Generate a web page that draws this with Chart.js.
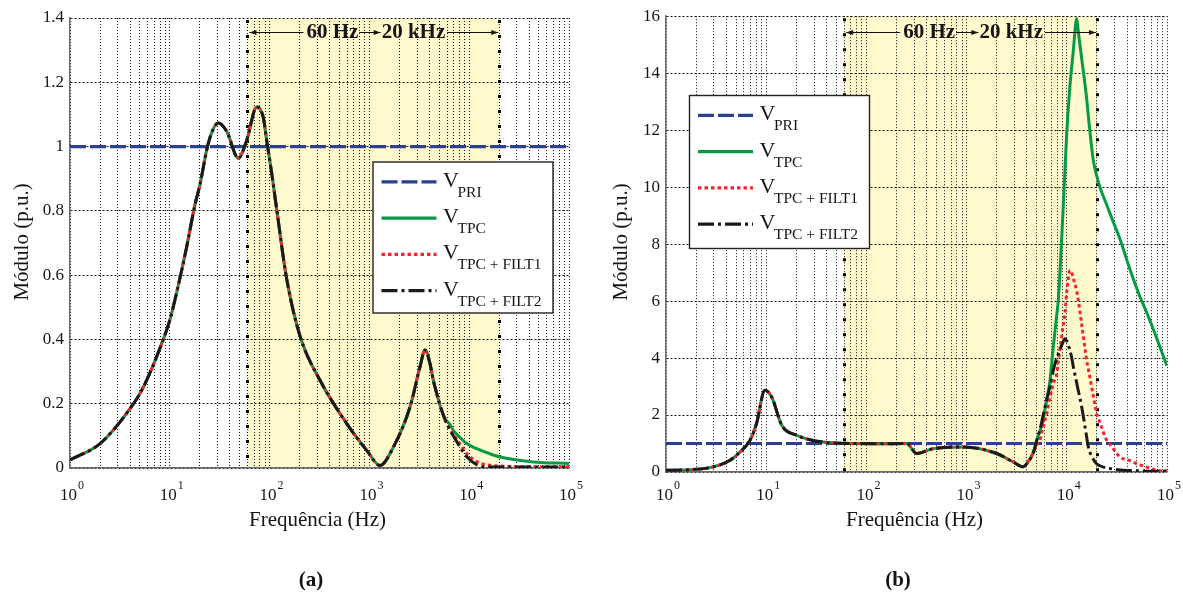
<!DOCTYPE html>
<html><head><meta charset="utf-8">
<script src="https://cdn.jsdelivr.net/npm/chart.js@4.4.1/dist/chart.umd.min.js"></script>
<style>
html,body{margin:0;padding:0;background:#fff;width:1183px;height:598px;overflow:hidden;}
#wa{position:absolute;left:0;top:0;width:591px;height:598px;}
#wb{position:absolute;left:591px;top:0;width:592px;height:598px;}
</style></head><body>
<div id="wa"><canvas id="ca" width="591" height="598"></canvas></div>
<div id="wb"><canvas id="cb" width="592" height="598"></canvas></div>
<script>
// ---------- DATA ----------
const xTickExponents = [0, 1, 2, 3, 4, 5];
const yTicksA = [0, 0.2, 0.4, 0.6, 0.8, 1, 1.2, 1.4];
const yTicksB = [0, 2, 4, 6, 8, 10, 12, 14, 16];
const bandHz = [60, 20000];
const bandText = ['60 Hz', '20 kHz'];
const legendMain = 'V';
const legendSubs = ['PRI', 'TPC', 'TPC + FILT1', 'TPC + FILT2'];
const seriesNames = ['V_PRI', 'V_TPC', 'V_TPC+FILT1', 'V_TPC+FILT2'];
const axisTitleX = 'Frequência (Hz)';
const axisTitleY = 'Módulo (p.u.)';
const captions = ['(a)', '(b)'];

const freqPri = [1, 100000];
const vPriA = [1, 1];
const vPriB = [1, 1];

// chart (a)
const freqA = [1, 2, 4, 5.4, 8.6, 10, 12, 14.8, 17.9, 20, 24.3, 30.6, 37.2, 48.6, 59, 74.3, 86.5, 93.4, 105, 118, 148, 202, 320, 593, 940, 1277, 1738, 2553, 3214, 3606, 4048, 4370, 4725, 5100, 5725, 6430, 6930, 8090, 9440, 11900, 13840, 20370, 43900, 100000];
const vTpcA = [0.025,0.076,0.185,0.25,0.40, 0.46,0.56,0.69,0.82,0.88, 1.01,1.073,1.047,0.964,1.02, 1.123,1.09,1.02,0.917,0.803, 0.59,0.41,0.273,0.138,0.055, 0.008,0.065,0.19,0.315,0.367, 0.325,0.273,0.232,0.195,
  0.154,0.135,0.117,0.095,0.076,0.06,0.052,0.034,0.019,0.014];
const vFilt1A = [0.025,0.076,0.185,0.25,0.40, 0.46,0.56,0.69,0.82,0.88, 1.01,1.073,1.047,0.964,1.02, 1.123,1.09,1.02,0.917,0.803, 0.59,0.41,0.273,0.138,0.055, 0.008,0.065,0.19,0.315,0.367, 0.325,0.273,0.232,0.195,
  0.152,0.12,0.105,0.075,0.045,0.02,0.012,0.006,0.004,0.004];
const vFilt2A = [0.025,0.076,0.185,0.25,0.40, 0.46,0.56,0.69,0.82,0.88, 1.01,1.073,1.047,0.964,1.02, 1.123,1.09,1.02,0.917,0.803, 0.59,0.41,0.273,0.138,0.055, 0.008,0.065,0.19,0.315,0.367, 0.325,0.273,0.232,0.195,
  0.15,0.117,0.1,0.065,0.035,0.01,0.004,0.003,0.003,0.003];

// chart (b)
const freqB = [1, 1.74, 2.97, 4.35, 5.47, 6.89, 8.0, 9.7, 11.35, 14.3, 20.1, 37, 80, 137, 252, 318, 466, 927, 1995, 2924, 3680, 3980, 4634,
  5010, 5400, 5620, 6050, 6300, 6790, 7330, 7930, 8225, 8895, 9590, 9980, 10770, 11200, 11620, 12560, 13030, 14090, 15800, 16400, 18400, 19870, 21400, 25000, 27000, 33960, 42800, 49900, 53700, 62700, 78900, 100000];
const vTpcB = [0.06,0.08,0.18,0.41,0.70, 1.11,1.70,2.87,2.63,1.64, 1.29,1.05,1.0,0.99,1.0, 0.65,0.82,0.88,0.65,0.35, 0.18,0.29,0.68,
  1.1,1.45,1.62,2.2,2.52,3.2,4.39,5.5,6.03,8.2,10.6,11.88,13.6,14.22,14.8,15.92,15.45,14.5,13.1,12.5,10.94,10.4,10.0,9.38,9.07,8.17,7.1,6.45,6.15,5.6,4.7,3.72];
const vFilt1B = [0.06,0.08,0.18,0.41,0.70, 1.11,1.70,2.87,2.63,1.64, 1.29,1.05,1.0,0.99,1.0, 0.65,0.82,0.88,0.65,0.35, 0.18,0.29,0.68,
  0.95,1.11,1.4,1.8,2.05,2.6,3.1,3.45,3.88,4.78,5.6,6.3,7.08,7.0,6.8,6.35,6.03,5.18,3.92,3.62,2.67,2.05,1.74,1.11,0.97,0.53,0.4,0.29,0.25,0.17,0.06,0.04];
const vFilt2B = [0.06,0.08,0.18,0.41,0.70, 1.11,1.70,2.87,2.63,1.64, 1.29,1.05,1.0,0.99,1.0, 0.65,0.82,0.88,0.65,0.35, 0.18,0.29,0.68,
  1.1,1.5,1.75,2.28,2.55,3.0,3.57,4.0,4.15,4.45,4.68,4.6,4.25,4.0,3.69,3.12,2.85,2.28,1.22,0.88,0.45,0.29,0.22,0.14,0.12,0.07,0.05,0.04,0.04,0.03,0.03,0.03];

// ---------- STYLE ----------
const SERIF = '"Liberation Serif", "Times New Roman", serif';
const TXT = '#151515';
const styles = [
  {color: '#2b3f93', dash: [16, 4], width: 3.2, order: 3},
  {color: '#079a45', dash: [], width: 3, order: 2},
  {color: '#f5232b', dash: [3.5, 3], width: 3, order: 1},
  {color: '#1a1a1a', dash: [16, 4, 3, 4], width: 3, order: 0}
];
Chart.defaults.font.family = SERIF;

function pts(xs, ys) { return xs.map((f, i) => ({x: f, y: ys[i]})); }

function arrow(ctx, x1, x2, y) {
  ctx.beginPath(); ctx.moveTo(x1, y); ctx.lineTo(x2, y); ctx.stroke();
  const d = Math.sign(x2 - x1);
  ctx.beginPath(); ctx.moveTo(x2, y); ctx.lineTo(x2 - d * 7, y - 2.6); ctx.lineTo(x2 - d * 7, y + 2.6); ctx.closePath(); ctx.fill();
}

const deco = {
  id: 'deco',
  beforeDraw(chart, args, o) {
    const {ctx, chartArea: a, scales: {x}} = chart;
    const x1 = x.getPixelForValue(bandHz[0]), x2 = x.getPixelForValue(bandHz[1]);
    ctx.save();
    ctx.fillStyle = 'rgb(255,249,206)';
    ctx.fillRect(x1, a.top, x2 - x1, a.bottom - a.top);
    ctx.restore();
  },
  beforeDatasetsDraw(chart, args, o) {
    const {ctx, chartArea: a, scales: {x}} = chart;
    ctx.save();
    ctx.strokeStyle = '#000'; ctx.lineWidth = 3; ctx.setLineDash([3, 12]);
    bandHz.forEach(v => {
      const px = Math.round(x.getPixelForValue(v)) + 0.5;
      ctx.beginPath(); ctx.moveTo(px, a.top + 2); ctx.lineTo(px, a.bottom); ctx.stroke();
    });
    ctx.restore();
  },
  afterDraw(chart, args, o) {
    const {ctx, chartArea: a, scales: {x}} = chart;
    ctx.save();
    // band annotation
    const xl = x.getPixelForValue(bandHz[0]), xr = x.getPixelForValue(bandHz[1]);
    const ya = 32.5;
    ctx.font = 'bold 21px ' + SERIF; ctx.fillStyle = TXT; ctx.strokeStyle = '#111'; ctx.lineWidth = 1;
    ctx.textAlign = 'left'; ctx.textBaseline = 'alphabetic';
    const w1 = ctx.measureText(bandText[0]).width, w2 = ctx.measureText(bandText[1]).width;
    const t1x = xl + 59, t2x = xr - 54 - w2;
    ctx.fillText(bandText[0], t1x, 38);
    ctx.fillText(bandText[1], t2x, 38);
    arrow(ctx, t1x - 3, xl + 2, ya);
    arrow(ctx, t1x + w1 + 1, t2x - 1, ya);
    arrow(ctx, t2x + w2 + 2, xr - 1, ya);

    // legend
    const L = o.legend;
    ctx.fillStyle = '#fff'; ctx.fillRect(L.x, L.y, L.w, L.h);
    ctx.strokeStyle = '#222'; ctx.lineWidth = 1.4; ctx.strokeRect(L.x + 0.5, L.y + 0.5, L.w, L.h);
    legendSubs.forEach((s, i) => {
      const y = L.y + 20.3 + i * 36.3;
      const st = styles[i];
      ctx.strokeStyle = st.color; ctx.lineWidth = 3.2; ctx.setLineDash(st.dash);
      ctx.beginPath(); ctx.moveTo(L.x + 9, y); ctx.lineTo(L.x + 64, y); ctx.stroke();
      ctx.setLineDash([]);
      ctx.fillStyle = TXT; ctx.textAlign = 'left'; ctx.textBaseline = 'alphabetic';
      ctx.font = '22px ' + SERIF;
      ctx.fillText(legendMain, L.x + 70.5, y + 5);
      ctx.font = '15.5px ' + SERIF;
      ctx.fillText(s, L.x + 85, y + 15);
    });

    // x tick labels 10^n
    ctx.fillStyle = TXT;
    xTickExponents.forEach(e => {
      const px = x.getPixelForValue(Math.pow(10, e));
      ctx.font = '17px ' + SERIF; ctx.textAlign = 'right'; ctx.textBaseline = 'alphabetic';
      ctx.fillText('10', px + 7, 500);
      ctx.font = '12px ' + SERIF; ctx.textAlign = 'left';
      ctx.fillText(String(e), px + 8, 489);
    });

    // axis titles
    ctx.font = '21px ' + SERIF; ctx.textAlign = 'center'; ctx.textBaseline = 'middle';
    ctx.fillText(axisTitleX, (a.left + a.right) / 2 - 2, 520);
    ctx.save();
    ctx.translate(o.yTitleX, 242); ctx.rotate(-Math.PI / 2);
    ctx.fillText(axisTitleY, 0, 0);
    ctx.restore();

    // caption
    ctx.font = 'bold 21px ' + SERIF;
    ctx.fillText(o.caption, o.capX, 581);
    ctx.restore();
  }
};

function makeChart(id, freq, tpc, f1, f2, pri, yTicks, yMax, opt) {
  const series = [pri, tpc, f1, f2];
  const xs = [freqPri, freq, freq, freq];
  return new Chart(document.getElementById(id), {
    type: 'line',
    data: {
      datasets: series.map((ys, i) => ({
        label: seriesNames[i],
        data: pts(xs[i], ys),
        borderColor: styles[i].color,
        borderDash: styles[i].dash,
        borderWidth: styles[i].width,
        order: styles[i].order,
        pointRadius: 0,
        fill: false,
        tension: 0,
        cubicInterpolationMode: 'monotone'
      }))
    },
    options: {
      responsive: false, animation: false, devicePixelRatio: 1,
      layout: {padding: opt.padding},
      plugins: {legend: {display: false}, tooltip: {enabled: false}, deco: opt},
      scales: {
        x: {
          type: 'logarithmic', min: 1, max: 100000,
          afterBuildTicks: s => {
            const t = [];
            for (let e = 0; e < 5; e++) for (let m = 1; m <= 9; m++) t.push({value: m * Math.pow(10, e)});
            t.push({value: 100000});
            s.ticks = t;
          },
          afterFit: s => { s.height = 30; },
          ticks: {display: false},
          grid: {color: '#111', lineWidth: 1, drawTicks: false},
          border: {display: true, color: '#6a6a6a', width: 1.5, dash: [1, 2]}
        },
        y: {
          type: 'linear', min: 0, max: yMax,
          afterBuildTicks: s => { s.ticks = yTicks.map(v => ({value: v})); },
          afterFit: s => { s.width = opt.yWidth; },
          ticks: {font: {family: SERIF, size: 17}, color: TXT, padding: 6, callback: v => String(v)},
          grid: {color: '#111', lineWidth: 1, drawTicks: false},
          border: {display: true, color: '#6a6a6a', width: 1.5, dash: [2, 2]}
        }
      }
    },
    plugins: [deco]
  });
}

makeChart('ca', freqA, vTpcA, vFilt1A, vFilt2A, vPriA, yTicksA, 1.4, {
  padding: {left: 0, top: 18, right: 22, bottom: 100},
  yWidth: 70,
  legend: {x: 372.5, y: 161.5, w: 180, h: 151},
  yTitleX: 22, caption: captions[0], capX: 311
});
makeChart('cb', freqB, vTpcB, vFilt1B, vFilt2B, vPriB, yTicksB, 16, {
  padding: {left: 0, top: 16, right: 16, bottom: 96},
  yWidth: 75,
  legend: {x: 98, y: 95, w: 180, h: 153},
  yTitleX: 30, caption: captions[1], capX: 307
});
</script>
</body></html>
